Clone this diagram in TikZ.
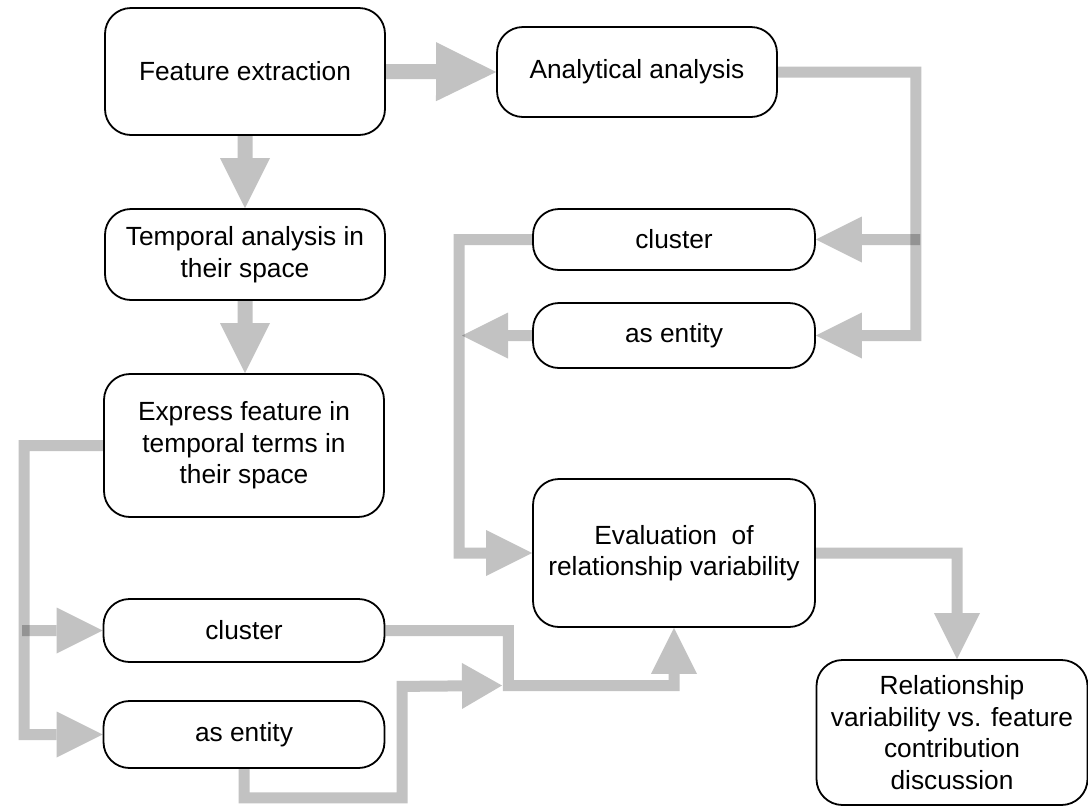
\documentclass[tikz,border=0pt]{standalone}
\usepackage{fontspec}
\setmainfont{Liberation Sans}
\usetikzlibrary{arrows.meta,backgrounds}
\tikzset{
  box/.style={draw=black, line width=1.8pt, rounded corners=26pt, fill=white, align=center,
    inner sep=0pt, minimum width=280pt, font=\fontsize{26.3}{31.5}\selectfont},
  conn/.style={draw=black, line width=11pt, -{Triangle[length=46pt,width=46pt,line width=0pt]}},
  connbig/.style={draw=black, line width=15pt, -{Triangle[length=50pt,width=50pt,line width=0pt]}},
  connhuge/.style={draw=black, line width=15pt, -{Triangle[length=60pt,width=59pt,line width=0pt]}},
  fade/.style={transparency group, opacity=0.24}
}
\begin{document}
\begin{tikzpicture}[x=1pt,y=-1pt]
\useasboundingbox (0,0) rectangle (1088,807);
% nodes
\node[box, minimum height=127pt] (fe) at (245,71.5) {Feature extraction};
\node[box, minimum height=90pt] (aa) at (637,72) {Analytical analysis};
\node[box, minimum height=91pt] (ta) at (245,254.5) {Temporal analysis in\\their space};
\node[box, minimum height=143pt] (ex) at (244,445.5) {Express feature in\\temporal terms in\\their space};
\node[box, minimum height=61pt, minimum width=282pt] (clR) at (674,239.5) {cluster};
\node[box, minimum height=65pt, minimum width=282pt] (aeR) at (674,335.5) {as entity};
\node[box, minimum height=148pt, minimum width=282pt] (ev) at (674,553) {Evaluation\ \ of\\relationship variability};
\node[box, minimum height=63pt, minimum width=281pt] (clL) at (244,630.5) {cluster};
\node[box, minimum height=67pt, minimum width=281pt] (aeL) at (244,734.5) {as entity};
\node[box, minimum height=145pt, minimum width=271pt] (rel) at (952,732.5) {Relationship\\variability vs. feature\\contribution\\discussion};
% free ends
\coordinate (rb) at (920,239.5);
\coordinate (aetip) at (462,335.5);
\coordinate (lb) at (22,630.5);
\coordinate (jtip) at (502,685.5);
% connectors
\begin{scope}[on background layer]
\fill[white] (0,0) rectangle (1088,807);
\begin{scope}[fade]\draw[connhuge] (fe.east) -- (aa.west);\end{scope}
\begin{scope}[fade]\draw[connbig] (fe.south) -- (ta.north);\end{scope}
\begin{scope}[fade]\draw[connbig] (ta.south) -- (ta.south |- ex.north);\end{scope}
\begin{scope}[fade]\draw[conn] (aa.east) -- ++(138,0) |- (aeR.east);\end{scope}
\begin{scope}[fade]\draw[conn] (rb) -- (clR.east);\end{scope}
\begin{scope}[fade]\draw[conn] (clR.west) -- ++(-73,0) |- (ev.west);\end{scope}
\begin{scope}[fade]\draw[conn] (aeR.west) -- (aetip);\end{scope}
\begin{scope}[fade]\draw[conn] (ev.east) -| ([xshift=5pt]rel.north);\end{scope}
\begin{scope}[fade]\draw[conn] (ex.west) -- ++(-79,0) |- (aeL.west);\end{scope}
\begin{scope}[fade]\draw[conn] (lb) -- (clL.west);\end{scope}
\begin{scope}[fade]\draw[conn] (clL.east) -| ++(123,55) -| (ev.south);\end{scope}
\begin{scope}[fade]\draw[conn, -{Triangle[length=40pt,width=46pt,line width=0pt]}] (aeL.south) -- ++(0,29) -| ++(158,-111.5) -- (jtip);\end{scope}
\end{scope}
\end{tikzpicture}
\end{document}
